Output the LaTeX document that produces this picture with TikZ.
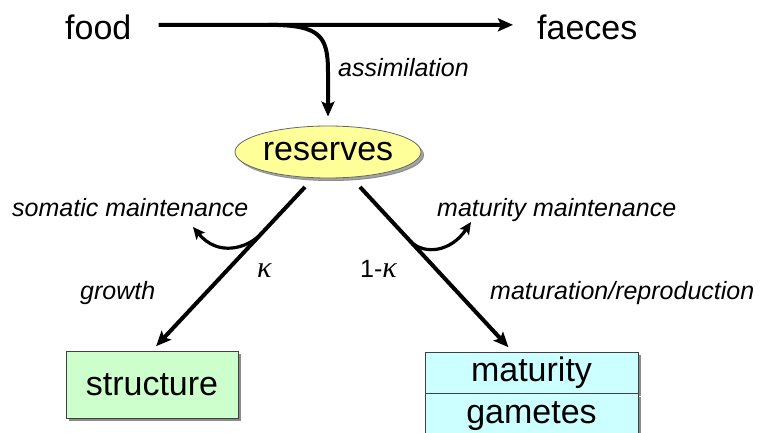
\documentclass[tikz,border=0pt]{standalone}
\usepackage{fontspec}
\setmainfont{Liberation Sans}
\newfontfamily\kappafont{Liberation Serif}
\usetikzlibrary{arrows.meta}
\usetikzlibrary{shapes.geometric,shadows}

\definecolor{resyellow}{HTML}{FFFF99}
\definecolor{strgreen}{HTML}{CCFFCC}
\definecolor{matcyan}{HTML}{CCFFFF}

\newcommand{\kapsym}{{\kappafont\itshape\fontsize{30}{32}\selectfont κ}}

\tikzset{
 bigtext/.style={font=\fontsize{34}{36}\selectfont},
 flowlabel/.style={font=\fontsize{25}{28}\selectfont\itshape, inner sep=0pt},
 kappalabel/.style={font=\fontsize{25}{28}\selectfont, inner sep=0pt},
 flow/.style={line width=4pt, -{Stealth[length=15pt,width=13pt,inset=3pt]}},
 branch/.style={line width=3.2pt, -{Stealth[length=12pt,width=11pt,inset=2.5pt]}},
 boxshadow/.style={drop shadow={shadow xshift=3pt,shadow yshift=-3pt,fill=black!45,opacity=1}},
 compartment/.style={draw=black!75, line width=0.8pt, bigtext, boxshadow}
}

\begin{document}
\begin{tikzpicture}[x=1pt,y=-1pt]
\clip (0,0) rectangle (760,433);
\fill[white] (0,0) rectangle (760,433);
% food uptake
\node[bigtext, anchor=base west, inner sep=0pt] (food) at (65,40) {food};
\node[bigtext, anchor=base west, inner sep=0pt] (faeces) at (537,40) {faeces};
\draw[flow] ([shift={(27,-3)}]food.east) -- ([shift={(-24,-3)}]faeces.west) coordinate[pos=0.31] (split);
% reserves
\node[ellipse, compartment, fill=resyellow, draw=black!60, drop shadow={shadow xshift=2pt,shadow yshift=-2pt,fill=black!25}, minimum width=186, minimum height=52, inner sep=0pt] (reserves) at (328,152) {reserves};
\coordinate (bend) at (328,72);
\draw[flow, shorten >=9pt] (split) .. controls +(52,0) and +(0,-36) .. (bend) -- (reserves.north);
\node[flowlabel, anchor=base west] (assim) at (338,77) {assimilation};
% compartments
\node[compartment, fill=strgreen, minimum width=172, minimum height=67, inner sep=0pt] (structure) at (152,384.5) {structure};
\node[compartment, fill=matcyan, minimum width=213, minimum height=41, inner sep=0pt] (maturity) at (531.5,372.5) {maturity};
\node[compartment, fill=matcyan, minimum width=213, minimum height=48, inner sep=0pt, anchor=north] (gametes) at (maturity.south) {\raisebox{10pt}{gametes}};
% kappa rule
\coordinate (ks) at (305,187);
\coordinate (rs) at (360,187);
\draw[flow, shorten >=6pt] (ks) -- (structure.north) coordinate[pos=0.29] (som);
\draw[flow, shorten >=6pt] (rs) -- ([xshift=-19pt]maturity.north) coordinate[pos=0.33] (mat);
\coordinate (somtip) at (193,227);
\coordinate (mattip) at (471,222);
\draw[branch] (som) .. controls +(-14,14) and +(25,30) .. (somtip);
\draw[branch] (mat) .. controls +(14,14) and +(-20,30) .. (mattip);
% labels
\node[flowlabel, anchor=base west] (somlab) at (12,216) {somatic maintenance};
\node[flowlabel, anchor=base west] (matlab) at (437,216) {maturity maintenance};
\node[flowlabel, anchor=base west] (growth) at (80,299) {growth};
\node[flowlabel, anchor=base west] (repro) at (490,299) {maturation/reproduction};
\node[kappalabel, anchor=base west] (kap) at (257,277) {\kapsym};
\node[kappalabel, anchor=base west] (onekap) at (360,277) {1-\kapsym};
\end{tikzpicture}
\end{document}
